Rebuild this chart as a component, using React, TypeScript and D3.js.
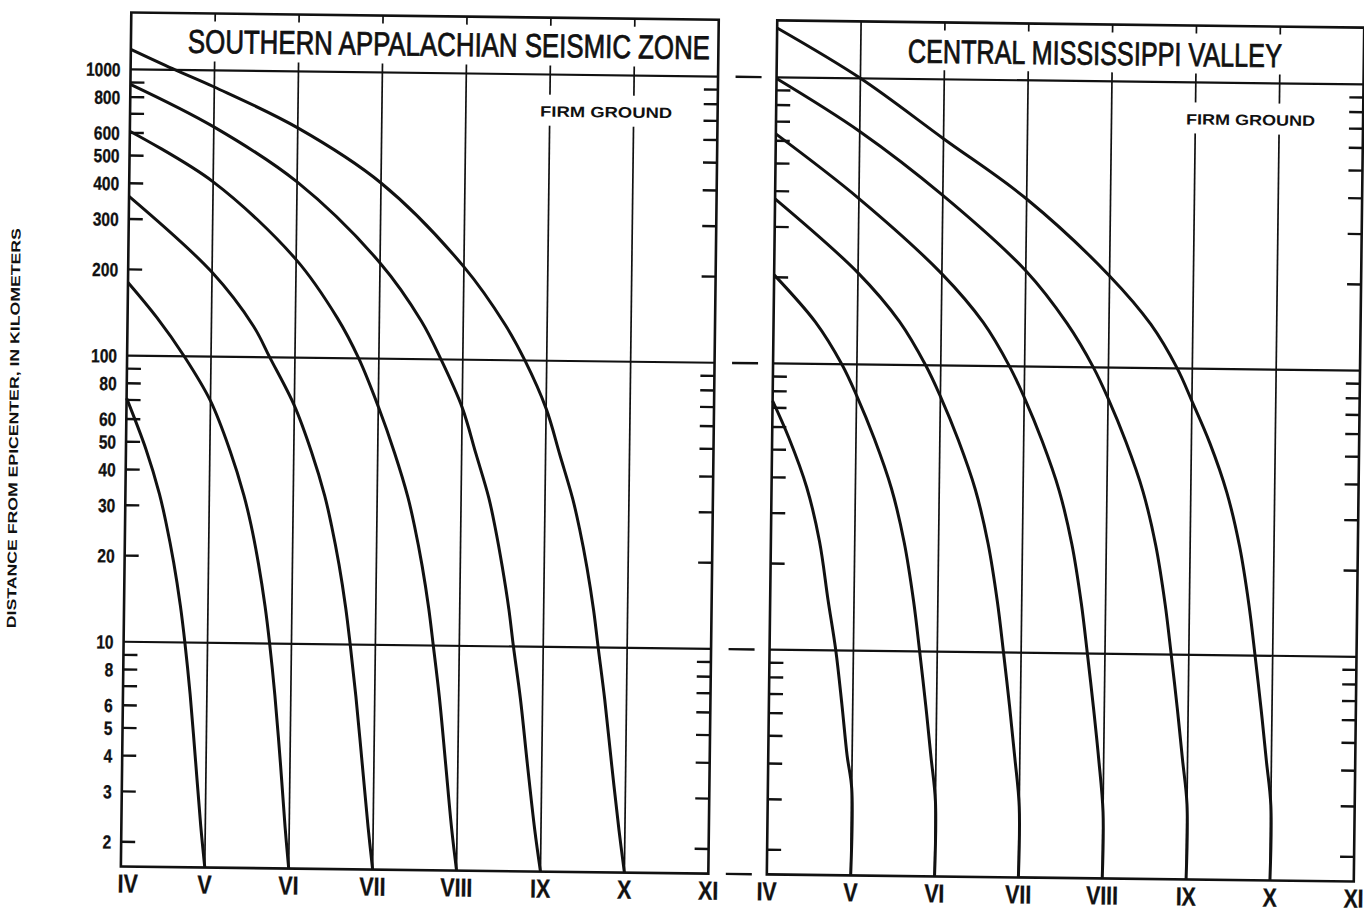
import React from 'react';
import * as d3 from 'd3';

// ---------- axis values ----------
const intensityValues = [4, 5, 6, 7, 8, 9, 10, 11];
const intensityLabels = ['IV', 'V', 'VI', 'VII', 'VIII', 'IX', 'X', 'XI'];
const gridIntensities = [5, 6, 7, 8, 9, 10];
const distanceTickLabels = [2, 3, 4, 5, 6, 8, 10, 20, 30, 40, 50, 60, 80, 100, 200, 300, 400, 500, 600, 800, 1000];
const minorTickValues = [2, 3, 4, 5, 6, 7, 8, 9, 20, 30, 40, 50, 60, 70, 80, 90, 200, 300, 400, 500, 600, 700, 800, 900];
const decadeLines = [10, 100, 1000];
const distanceDomain = [1.64, 1580];

const panelTitles = ['SOUTHERN APPALACHIAN SEISMIC ZONE', 'CENTRAL MISSISSIPPI VALLEY'];
const groundLabel = 'FIRM GROUND';
const yAxisTitle = 'DISTANCE FROM EPICENTER, IN KILOMETERS';

// ---------- Southern Appalachian curves: [intensity, km] ----------
const appalachianV: [number, number][] = [
  [4, 71], [4.24, 47], [4.405, 33], [4.49, 26], [4.585, 19], [4.67, 13.5], [4.73, 10], [4.8, 6.6], [4.875, 3.85], [4.945, 2.3], [5, 1.64],
];
const appalachianVI: [number, number][] = [
  [4, 180], [4.35, 136], [4.68, 100], [5, 70], [5.24, 47], [5.41, 33], [5.5, 26], [5.595, 19], [5.68, 13.5], [5.74, 10], [5.81, 6.6], [5.885, 3.85], [5.95, 2.3], [6, 1.64],
];
const appalachianVII: [number, number][] = [
  [4, 360], [5, 197], [5.5, 128.5], [5.7, 100], [6, 68], [6.21, 47], [6.375, 33], [6.46, 26], [6.555, 19], [6.64, 13.5], [6.7, 10], [6.775, 6.6], [6.86, 3.85], [6.94, 2.3], [7, 1.64],
];
const appalachianVIII: [number, number][] = [
  [4, 608], [5, 408], [6, 220], [6.5, 138], [6.76, 100], [7, 68], [7.2, 47], [7.365, 33], [7.45, 26], [7.545, 19], [7.63, 13.5], [7.69, 10], [7.77, 6.6], [7.855, 3.85], [7.935, 2.3], [8, 1.64],
];
const appalachianIX: [number, number][] = [
  [4, 887], [5, 635], [6, 411], [7, 216], [7.5, 136], [7.74, 100], [8, 68], [8.17, 47], [8.33, 33], [8.41, 26], [8.5, 19], [8.585, 13.5], [8.645, 10], [8.735, 6.6], [8.83, 3.85], [8.925, 2.3], [9, 1.64],
];
const appalachianX: [number, number][] = [
  [4, 1175], [4.5, 1010], [5, 875], [6, 635], [7, 411], [8, 211], [8.5, 133], [8.74, 100], [9, 68], [9.17, 47], [9.33, 33], [9.415, 26], [9.51, 19], [9.595, 13.5], [9.655, 10], [9.74, 6.6], [9.835, 3.85], [9.93, 2.3], [10, 1.64],
];

// ---------- Central Mississippi Valley curves: [intensity, km] ----------
const mississippiV: [number, number][] = [
  [4, 74], [4.2, 55], [4.42, 37], [4.58, 24], [4.69, 15], [4.79, 10], [4.87, 6.5], [4.94, 4.3], [5, 3.3], [5, 1.64],
];
const mississippiVI: [number, number][] = [
  [4, 204], [4.5, 140], [4.82, 100], [5, 78], [5.22, 55], [5.43, 37], [5.59, 24], [5.71, 15], [5.79, 10], [5.87, 6.5], [5.94, 4.3], [6, 3.0], [6, 1.64],
];
const mississippiVII: [number, number][] = [
  [4, 376], [5, 209], [5.5, 142], [5.82, 100], [6, 78], [6.22, 55], [6.43, 37], [6.59, 24], [6.71, 15], [6.79, 10], [6.87, 6.5], [6.94, 4.3], [7, 2.9], [7, 1.64],
];
const mississippiVIII: [number, number][] = [
  [4, 634], [5, 380], [6, 209], [6.5, 142], [6.82, 100], [7, 78], [7.22, 55], [7.43, 37], [7.59, 24], [7.71, 15], [7.79, 10], [7.87, 6.5], [7.94, 4.3], [8, 2.8], [8, 1.64],
];
const mississippiIX: [number, number][] = [
  [4, 990], [5, 652], [6, 393], [7, 216], [7.5, 142], [7.82, 100], [8, 78], [8.22, 55], [8.43, 37], [8.59, 24], [8.71, 15], [8.79, 10], [8.87, 6.5], [8.94, 4.3], [9, 3.0], [9, 1.64],
];
const mississippiX: [number, number][] = [
  [4, 1486], [5, 1000], [6, 620], [7, 385], [8, 209], [8.5, 142], [8.82, 100], [9, 77], [9.22, 55], [9.43, 37], [9.59, 24], [9.71, 15], [9.79, 10], [9.87, 6.5], [9.94, 4.3], [10, 3.0], [10, 1.64],
];

const appalachianCurves = [appalachianV, appalachianVI, appalachianVII, appalachianVIII, appalachianIX, appalachianX];
const mississippiCurves = [mississippiV, mississippiVI, mississippiVII, mississippiVIII, mississippiIX, mississippiX];

// ---------- layout ----------
const Y_RANGE: [number, number] = [874, 20];
const INK = '#111';
const FONT = "'Liberation Sans', Arial, Helvetica, sans-serif";

function Cond({ x, y, anchor, size, children }: any) {
  return (
    <text
      transform={`translate(${x},${y}) scale(0.82,1)`}
      textAnchor={anchor}
      fontSize={size}
      fontWeight="bold"
      fontFamily={FONT}
      fill={INK}
      stroke={INK}
      strokeWidth={0.3}
    >
      {children}
    </text>
  );
}

function Panel(props: any) {
  const { x0, x1, curves, title, titleX0, titleX1, titleBaseline, firmX0, firmX1, showYLabels, fullBand, firstLabelStart } = props;
  const x = d3.scaleLinear().domain([4, 11]).range([x0, x1]);
  const y = d3.scaleLog().domain(distanceDomain).range(Y_RANGE);
  const yTop = Y_RANGE[1];
  const yBot = Y_RANGE[0];
  const y1000 = y(1000);
  const line = d3
    .line<[number, number]>()
    .x((d) => x(d[0]))
    .y((d) => y(d[1]))
    .curve(d3.curveCatmullRom.alpha(0.5));
  const titleScale = 0.77;

  return (
    <g>
      {/* vertical gridlines */}
      {gridIntensities.map((v) => {
        const gx = x(v);
        if (fullBand.includes(v)) {
          return <line key={v} x1={gx} x2={gx} y1={yTop} y2={yBot} stroke={INK} strokeWidth={1.7} />;
        }
        return (
          <g key={v}>
            <line x1={gx} x2={gx} y1={y1000 - 9} y2={yBot} stroke={INK} strokeWidth={1.7} />
            <line x1={gx} x2={gx} y1={yTop} y2={yTop + 8} stroke={INK} strokeWidth={1.7} />
          </g>
        );
      })}
      {/* gap for label */}
      <rect x={firmX0 - 5} y={97} width={firmX1 - firmX0 + 10} height={31} fill="#fff" />
      <text
        x={firmX0}
        y={119}
        fontSize={15}
        fontWeight="bold"
        fontFamily={FONT}
        fill={INK}
        textLength={firmX1 - firmX0}
        lengthAdjust="spacingAndGlyphs"
      >
        {groundLabel}
      </text>
      {/* decade lines */}
      {decadeLines.map((v) => (
        <line key={v} x1={x0} x2={x1} y1={y(v)} y2={y(v)} stroke={INK} strokeWidth={2.2} />
      ))}
      {/* minor ticks */}
      {minorTickValues.map((v) => (
        <g key={v}>
          <line x1={x0} x2={x0 + 14} y1={y(v)} y2={y(v)} stroke={INK} strokeWidth={2.4} />
          <line x1={x1 - 14} x2={x1} y1={y(v)} y2={y(v)} stroke={INK} strokeWidth={2.4} />
        </g>
      ))}
      {/* frame */}
      <rect x={x0} y={yTop} width={x1 - x0} height={yBot - yTop} fill="none" stroke={INK} strokeWidth={2.6} />
      {/* title */}
      <text
        transform={`translate(${titleX0},${titleBaseline}) scale(${titleScale},1)`}
        x={0}
        y={0}
        fontSize={33}
        fontFamily={FONT}
        fill={INK}
        stroke={INK}
        strokeWidth={0.8}
        textLength={(titleX1 - titleX0) / titleScale}
        lengthAdjust="spacingAndGlyphs"
      >
        {title}
      </text>
      {/* curves */}
      {curves.map((c: [number, number][], i: number) => (
        <path key={i} d={line(c) || ''} fill="none" stroke={INK} strokeWidth={3} strokeLinejoin="round" />
      ))}
      {/* y labels */}
      {showYLabels &&
        distanceTickLabels.map((v) => (
          <Cond key={v} x={x0 - 10} y={y(v) + 7} anchor="end" size={19}>
            {String(v)}
          </Cond>
        ))}
      {/* x labels */}
      {intensityValues.map((v, i) => (
        <Cond
          key={v}
          x={i === 0 && firstLabelStart ? x(v) - 3 : x(v)}
          y={900}
          anchor={i === 0 && firstLabelStart ? 'start' : 'middle'}
          size={26}
        >
          {intensityLabels[i]}
        </Cond>
      ))}
    </g>
  );
}

export default function App() {
  const y = d3.scaleLog().domain(distanceDomain).range(Y_RANGE);
  const dashLevels = [1000, 100, 10, distanceDomain[0]];
  return (
    <svg
      width={1364}
      height={912}
      style={{ position: 'absolute', left: 0, top: 0, background: '#fff' }}
    >
      <rect x={0} y={0} width={1364} height={912} fill="#fff" />
      <g transform="rotate(0.7 740 450)">
        <text
          transform="translate(18,437) rotate(-90)"
          textAnchor="middle"
          fontSize={13}
          fontWeight="bold"
          fontFamily={FONT}
          fill={INK}
          textLength={400}
          lengthAdjust="spacingAndGlyphs"
        >
          {yAxisTitle}
        </text>
        <Panel
          x0={126}
          x1={713.5}
          curves={appalachianCurves}
          title={panelTitles[0]}
          titleX0={183}
          titleX1={705}
          titleBaseline={59.5}
          firmX0={536}
          firmX1={668}
          showYLabels={true}
          fullBand={[]}
          firstLabelStart={true}
        />
        <Panel
          x0={772}
          x1={1359}
          curves={mississippiCurves}
          title={panelTitles[1]}
          titleX0={903}
          titleX1={1277}
          titleBaseline={60.5}
          firmX0={1182}
          firmX1={1311}
          showYLabels={false}
          fullBand={[5]}
          firstLabelStart={false}
        />
        {dashLevels.map((v, i) => (
          <line key={i} x1={731} x2={757} y1={y(v)} y2={y(v)} stroke={INK} strokeWidth={2.4} />
        ))}
      </g>
    </svg>
  );
}
